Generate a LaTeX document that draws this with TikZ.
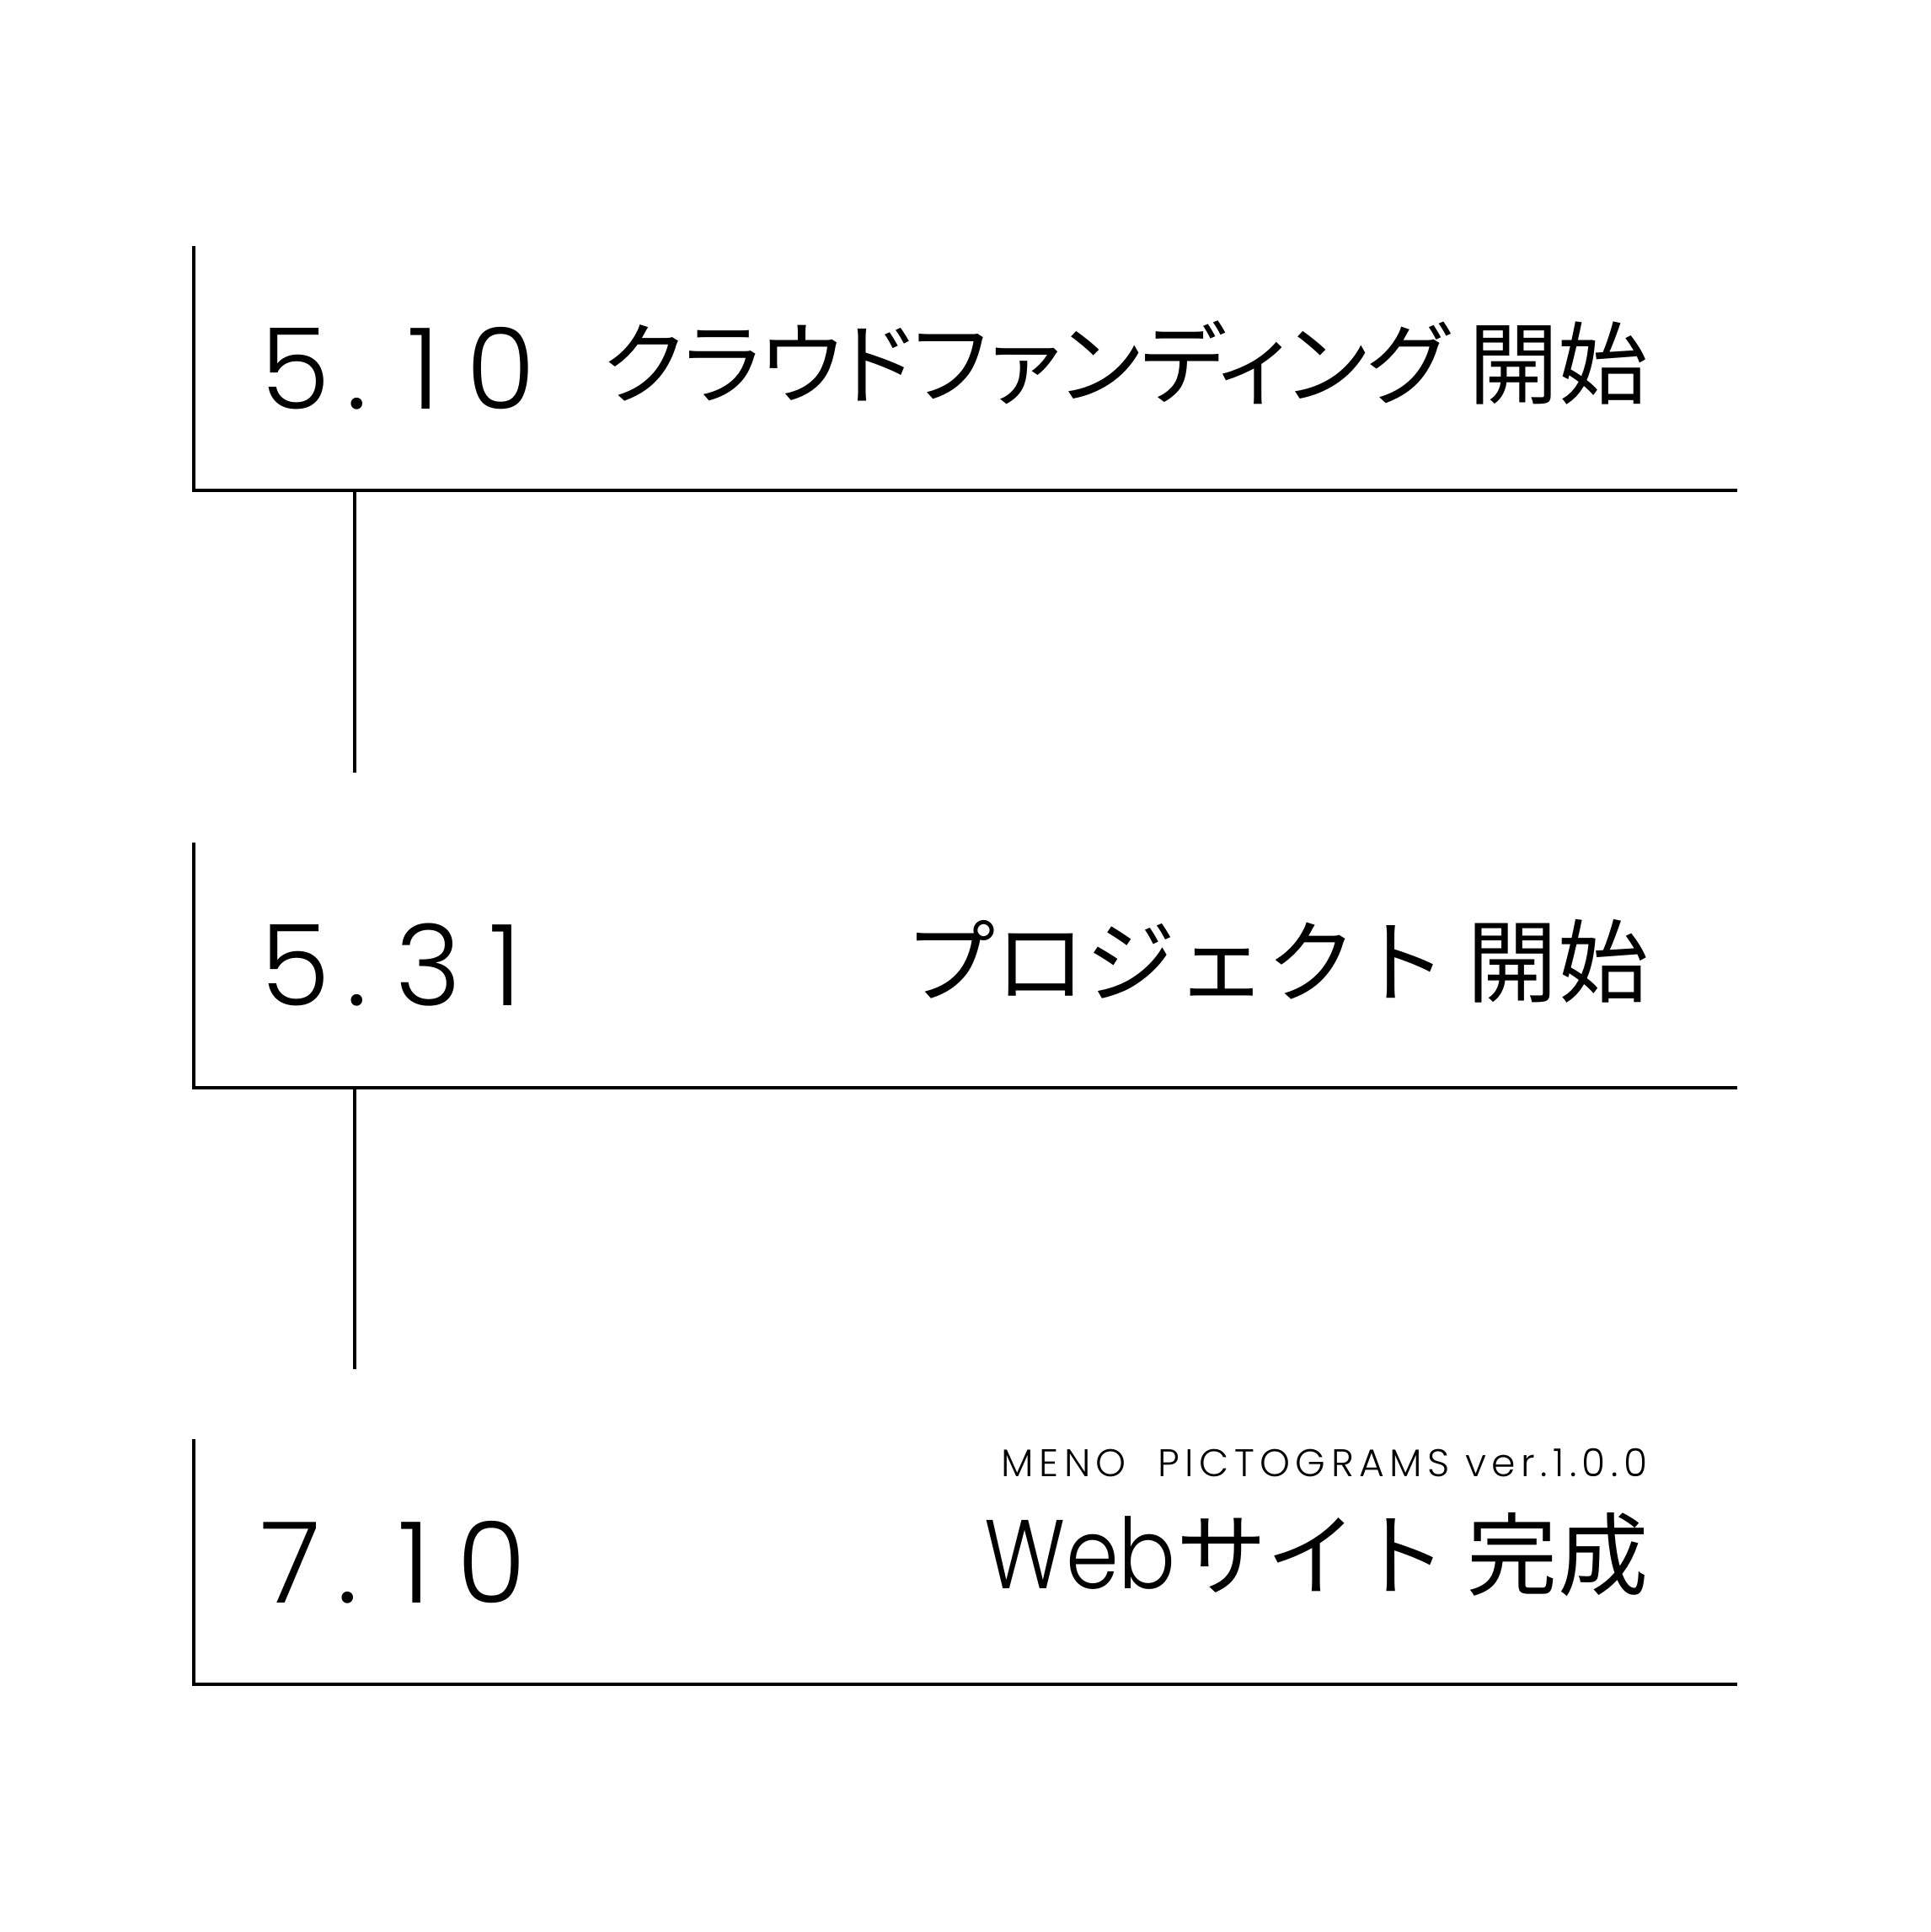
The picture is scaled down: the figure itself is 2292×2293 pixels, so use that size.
\documentclass[tikz,border=0pt]{standalone}
\usepackage{fontspec}
\setmainfont{Noto Sans CJK JP}
\newfontfamily\jpfont{Noto Sans CJK JP}
\newfontfamily\jppalt{Noto Sans CJK JP}[RawFeature=+palt]
\newfontfamily\numfont{Poppins Light}[RawFeature=+tnum]
\newfontfamily\versionfont{Poppins Light}[LetterSpace=14]

\begin{document}
\begin{tikzpicture}[x=0.01cm,y=-0.01cm,line width=0.95pt,
   date/.style={anchor=base west,inner sep=0pt,font=\numfont\fontsize{38}{38}\selectfont},
   event/.style={anchor=base east,inner sep=0pt,font=\jpfont\fontsize{30.5}{30.5}\selectfont}]
   \useasboundingbox (0,0) rectangle (2292,2293);

   \coordinate (top1) at (230,292);
   \coordinate (corner1) at (230,582);
   \coordinate (end1) at (2062,582);
   \coordinate (top2) at (230,1000);
   \coordinate (corner2) at (230,1291);
   \coordinate (end2) at (2062,1291);
   \coordinate (top3) at (230,1708);
   \coordinate (corner3) at (230,1999);
   \coordinate (end3) at (2062,1999);

   \draw (top1) -- (corner1) -- (end1);
   \draw (top2) -- (corner2) -- (end2);
   \draw (top3) -- (corner3) -- (end3);

   \coordinate (link1) at (421,582);
   \coordinate (stop1) at (421,917);
   \coordinate (link2) at (421,1291);
   \coordinate (stop2) at (421,1625);
   \draw (link1) -- (stop1);
   \draw (link2) -- (stop2);

   \node[date] (date1) at (308,485) {5\hspace{5.5pt}.\hspace{13.5pt}1\hspace{9pt}0};
   \node[date] (date2) at (308,1193) {5\hspace{5.5pt}.\hspace{9.5pt}3\hspace{9.5pt}1};
   \node[date] (date3) at (308,1902) {7\hspace{5.5pt}.\hspace{13.5pt}1\hspace{9pt}0};

   \node[event,font=\jppalt\fontsize{30.3}{30.3}\selectfont] (event1) at (1958,471) {クラウドファンディング 開始};
   \node[event] (event2) at (1958,1181) {プロジェクト 開始};
   \node[event] (event3) at (1958,1885) {{\numfont\fontsize{33}{33}\selectfont\scalebox{0.87}[1]{Web}}サイト 完成};
   \node[anchor=base east,inner sep=0pt,font=\versionfont\fontsize{13}{13}\selectfont] (version) at (1957,1752) {MENO\ \ PICTOGRAMS ver.1.0.0};
\end{tikzpicture}
\end{document}
